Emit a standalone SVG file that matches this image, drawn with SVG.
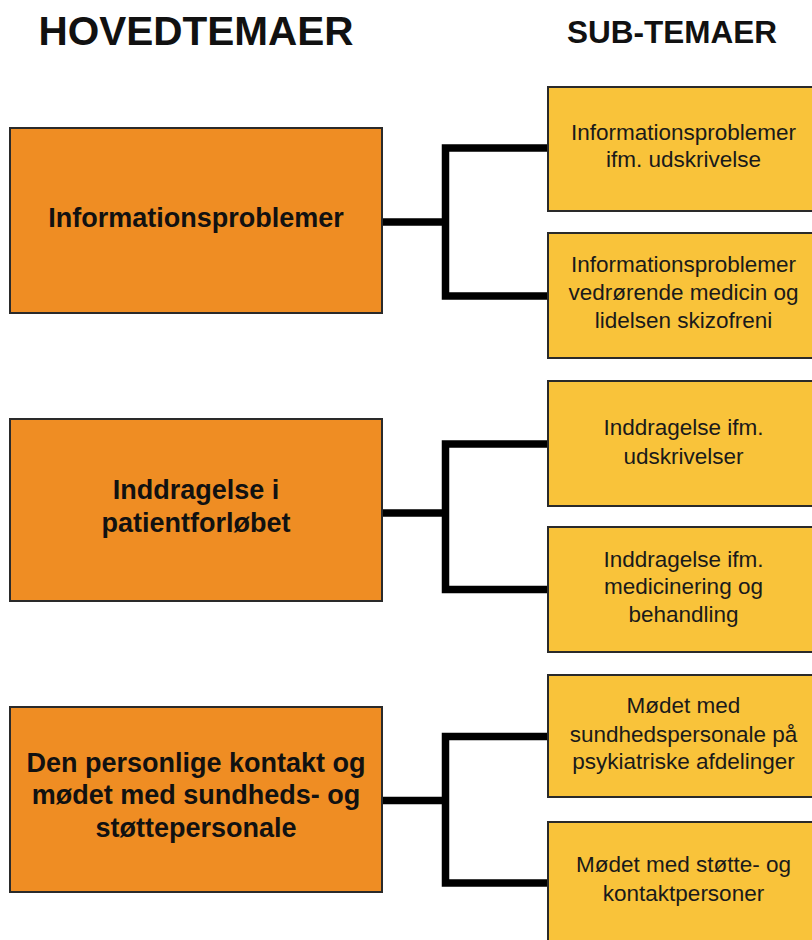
<svg xmlns="http://www.w3.org/2000/svg" width="812" height="940" viewBox="0 0 812 940">
<style>
.hdr{font-family:"Liberation Sans",Arial,sans-serif;font-weight:bold;fill:#111;text-anchor:middle}
.main rect{fill:#EF8D23;stroke:#2a2a2a;stroke-width:2}
.sub rect{fill:#F9C33A;stroke:#2a2a2a;stroke-width:2}
.main text{font-family:"Liberation Sans",Arial,sans-serif;font-weight:bold;font-size:27px;fill:#111;text-anchor:middle}
.sub text{font-family:"Liberation Sans",Arial,sans-serif;font-size:22.5px;fill:#1a1a1a;text-anchor:middle}
.conn path{fill:none;stroke:#000;stroke-width:7.5;stroke-linejoin:miter;stroke-linecap:butt}
</style>
<rect width="812" height="940" fill="#fff"/>
<text class="hdr" x="196" y="45" font-size="40.5">HOVEDTEMAER</text>
<text class="hdr" x="672" y="43" font-size="31.5">SUB-TEMAER</text>

<g id="connectors" class="conn">
<path d="M382,222 H445.5 M548,148 H445.5 V296 H548"/>
<path d="M382,513 H445.5 M548,444 H445.5 V589.5 H548"/>
<path d="M382,800.5 H445.5 M548,736.5 H445.5 V883 H548"/>
</g>

<g id="main1" class="main">
<rect x="10" y="128" width="372" height="185"/>
<text x="196" y="227">Informationsproblemer</text>
</g>
<g id="main2" class="main">
<rect x="10" y="419" width="372" height="182"/>
<text x="196" y="499">Inddragelse i</text>
<text x="196" y="532">patientforløbet</text>
</g>
<g id="main3" class="main">
<rect x="10" y="707" width="372" height="185"/>
<text x="196" y="772">Den personlige kontakt og</text>
<text x="196" y="804">mødet med sundheds- og</text>
<text x="196" y="837">støttepersonale</text>
</g>

<g id="sub1" class="sub">
<rect x="548" y="87" width="272" height="124"/>
<text x="683.5" y="140">Informationsproblemer</text>
<text x="683.5" y="167">ifm. udskrivelse</text>
</g>
<g id="sub2" class="sub">
<rect x="548" y="233" width="272" height="125"/>
<text x="683.5" y="272">Informationsproblemer</text>
<text x="683.5" y="300">vedrørende medicin og</text>
<text x="683.5" y="328">lidelsen skizofreni</text>
</g>
<g id="sub3" class="sub">
<rect x="548" y="381" width="272" height="125"/>
<text x="683.5" y="435">Inddragelse ifm.</text>
<text x="683.5" y="464">udskrivelser</text>
</g>
<g id="sub4" class="sub">
<rect x="548" y="527" width="272" height="125"/>
<text x="683.5" y="566.5">Inddragelse ifm.</text>
<text x="683.5" y="593.5">medicinering og</text>
<text x="683.5" y="621.5">behandling</text>
</g>
<g id="sub5" class="sub">
<rect x="548" y="675" width="272" height="122"/>
<text x="683.5" y="713">Mødet med</text>
<text x="683.5" y="741.5">sundhedspersonale på</text>
<text x="683.5" y="769">psykiatriske afdelinger</text>
</g>
<g id="sub6" class="sub">
<rect x="548" y="822" width="272" height="125"/>
<text x="683.5" y="871.5">Mødet med støtte- og</text>
<text x="683.5" y="900.5">kontaktpersoner</text>
</g>
</svg>
